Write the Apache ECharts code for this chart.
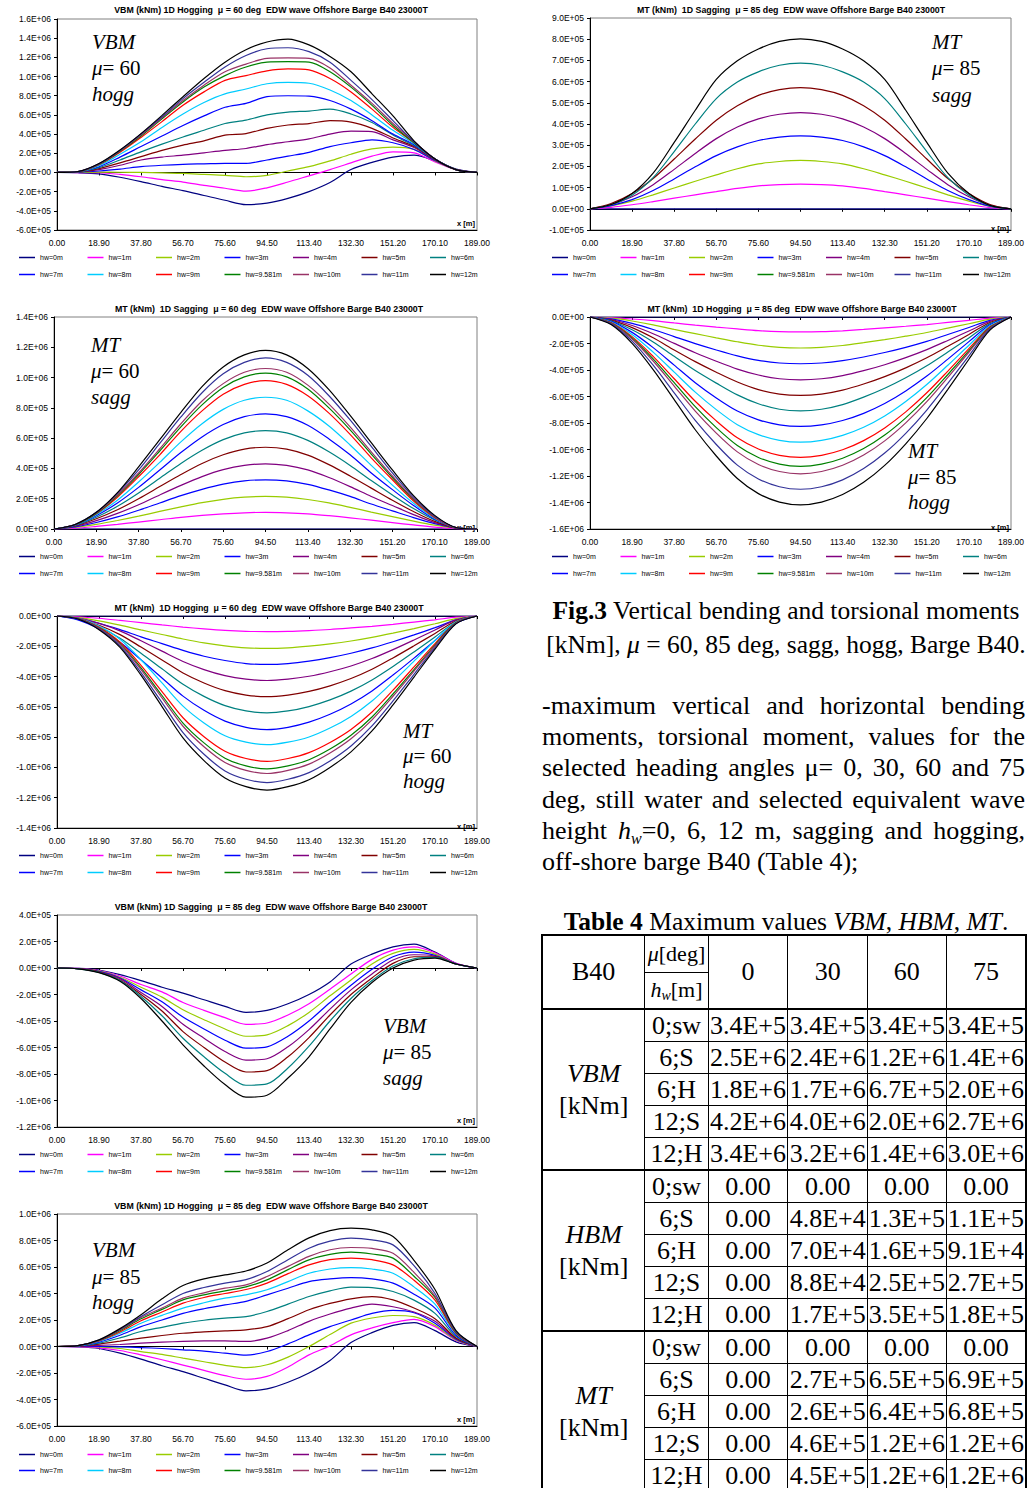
<!DOCTYPE html>
<html><head><meta charset="utf-8">
<script src="https://cdn.jsdelivr.net/npm/echarts@6/dist/echarts.min.js"></script>
<style>
html,body{margin:0;padding:0;width:1027px;height:1488px;overflow:hidden;background:#fff;}
#chart{position:absolute;left:0;top:0;width:1027px;height:1488px;}
.txt{position:absolute;font-family:"Liberation Serif","Times New Roman",serif;color:#000;font-size:25.5px;white-space:nowrap;}
.pl{position:absolute;left:542px;width:483px;height:31.2px;line-height:31.2px;font-family:"Liberation Serif","Times New Roman",serif;font-size:26px;color:#000;text-align:justify;text-align-last:justify;white-space:nowrap;}
.pl.last{text-align:left;text-align-last:left;}
.sb{font-size:16px;vertical-align:-5px;line-height:0;font-style:italic;}
#tbl{position:absolute;left:541px;top:934px;border-collapse:collapse;table-layout:fixed;font-family:"Liberation Serif","Times New Roman",serif;font-size:26px;color:#000;border:2px solid #000;}
#tbl td{border:1px solid #000;padding:0;text-align:center;vertical-align:middle;white-space:nowrap;overflow:hidden;height:31px;line-height:30px;}
#tbl td.hd{height:35.5px;font-size:22px;line-height:30px;}
#tbl tr.grp td{border-top:2px solid #000;}
#tbl td.big{font-size:26px;}
</style></head><body>
<div id="chart"></div>
<div class="txt" style="left:530px;top:594px;width:512px;text-align:center;line-height:34px;"><b>Fig.3</b> Vertical bending and torsional moments<br>[kNm], <i>μ</i> = 60, 85 deg, sagg, hogg, Barge B40.</div>
<div class="pl" style="top:690px;">-maximum vertical and horizontal bending</div>
<div class="pl" style="top:721.2px;">moments, torsional moment, values for the</div>
<div class="pl" style="top:752.4px;">selected heading angles μ= 0, 30, 60 and 75</div>
<div class="pl" style="top:783.6px;">deg, still water and selected equivalent wave</div>
<div class="pl" style="top:814.8px;">height <i>h</i><span class="sb">w</span>=0, 6, 12 m, sagging and hogging,</div>
<div class="pl last" style="top:846px;">off-shore barge B40 (Table 4);</div>
<div class="txt" style="left:530px;top:905px;width:512px;text-align:center;line-height:34px;"><b>Table 4</b> Maximum values <i>VBM</i>, <i>HBM</i>, <i>MT</i>.</div>
<table id="tbl"></table>
<script>
// ---------- DATA ----------
const X = [0, 9.45, 18.9, 28.35, 37.8, 47.25, 56.7, 66.15, 75.6, 85.05, 94.5, 103.95, 113.4, 122.85, 132.3, 141.75, 151.2, 160.65, 170.1, 179.55, 189];
const hwNames = ['hw=0m','hw=1m','hw=2m','hw=3m','hw=4m','hw=5m','hw=6m','hw=7m','hw=8m','hw=9m','hw=9.581m','hw=10m','hw=11m','hw=12m'];
const hwColors = ['#000080','#FF00FF','#99CC00','#0000FF','#800080','#800000','#008080','#0000FF','#00CCFF','#FF0000','#008000','#993366','#333399','#000000'];
const UNIT = 1e5; // values below are in 1E+05 kNm

const vbm60Hogg = [
 [0,-0.03,-0.15,-0.5,-0.95,-1.45,-1.9,-2.4,-2.9,-3.35,-3.2,-2.7,-2.0,-1.05,0.3,1.05,1.6,1.8,1.2,0.35,0],
 [0,-0.01,-0.03,-0.2,-0.45,-0.75,-1.0,-1.35,-1.65,-1.95,-1.6,-1.0,-0.35,0.3,1.0,1.7,2.15,2.05,1.1,0.3,0],
 [0,0,0.03,0.02,0,-0.05,-0.1,-0.2,-0.3,-0.45,-0.3,0.15,0.6,1.2,1.9,2.45,2.65,2.4,1.2,0.3,0],
 [0,0.02,0.15,0.35,0.6,0.75,0.85,0.9,0.95,0.95,1.3,1.7,2.1,2.7,3.1,3.4,3.1,2.4,1.25,0.3,0],
 [0,0.05,0.3,0.75,1.3,1.6,1.8,2.05,2.3,2.5,2.9,3.2,3.5,4.0,4.3,4.25,3.4,2.6,1.3,0.3,0],
 [0,0.05,0.4,1.0,1.65,2.3,2.85,3.3,3.9,4.05,4.6,4.95,5.1,5.4,5.25,4.6,3.6,2.7,1.35,0.3,0],
 [0,0.06,0.5,1.3,2.15,2.95,3.7,4.4,5.1,5.45,6.0,6.3,6.4,6.6,6.1,5.2,3.9,2.8,1.4,0.3,0],
 [0,0.07,0.6,1.6,2.7,3.8,4.9,5.9,6.8,7.2,7.9,8.0,7.95,7.5,6.6,5.4,4.0,2.9,1.4,0.3,0],
 [0,0.08,0.7,1.9,3.2,4.7,6.1,7.3,8.2,8.7,9.25,9.4,9.3,8.6,7.5,6.0,4.4,3.0,1.4,0.3,0],
 [0,0.08,0.8,2.1,3.65,5.3,7.0,8.4,9.6,10.1,10.6,10.8,10.7,9.8,8.4,6.6,4.7,3.1,1.4,0.3,0],
 [0,0.08,0.83,2.2,3.8,5.6,7.35,8.9,10.1,11.0,11.5,11.55,11.5,10.5,8.9,7.0,4.9,3.1,1.4,0.3,0],
 [0,0.09,0.87,2.25,3.9,5.7,7.5,9.1,10.5,11.3,11.9,11.95,11.9,10.9,9.1,7.2,5.1,3.2,1.4,0.3,0],
 [0,0.09,0.9,2.3,4.0,5.8,7.7,9.4,11.0,12.2,12.9,13.0,12.6,11.5,9.6,7.6,5.4,3.2,1.4,0.3,0],
 [0,0.1,0.94,2.35,4.05,5.95,7.9,9.8,11.5,12.8,13.6,13.9,13.3,12.1,10.5,8.2,5.9,3.3,1.4,0.3,0]
];
const mt60Sagg = [
 [0,0,0,0,0,0,0,0,0,0,0,0,0,0,0,0,0,0,0,0,0],
 [0,0.05,0.17,0.31,0.46,0.61,0.77,0.9,1.0,1.07,1.1,1.07,1.0,0.88,0.74,0.58,0.42,0.27,0.13,0.03,0],
 [0,0.1,0.3,0.56,0.85,1.16,1.46,1.74,1.96,2.1,2.15,2.1,1.95,1.72,1.43,1.12,0.82,0.52,0.25,0.05,0],
 [0,0.14,0.43,0.8,1.24,1.72,2.2,2.62,2.96,3.18,3.25,3.18,2.95,2.58,2.15,1.65,1.2,0.75,0.35,0.06,0],
 [0,0.18,0.55,1.03,1.6,2.25,2.88,3.46,3.92,4.2,4.3,4.2,3.9,3.4,2.8,2.15,1.55,0.95,0.42,0.07,0],
 [0,0.21,0.68,1.27,2.0,2.8,3.6,4.33,4.9,5.28,5.4,5.28,4.88,4.25,3.5,2.7,1.9,1.15,0.5,0.08,0],
 [0,0.24,0.78,1.5,2.38,3.35,4.33,5.2,5.9,6.35,6.5,6.35,5.85,5.1,4.2,3.2,2.25,1.35,0.6,0.1,0],
 [0,0.26,0.88,1.72,2.75,3.9,5.05,6.08,6.9,7.42,7.6,7.42,6.85,5.95,4.9,3.7,2.6,1.55,0.65,0.1,0],
 [0,0.27,0.95,1.9,3.1,4.4,5.75,6.95,7.9,8.5,8.7,8.5,7.8,6.8,5.55,4.2,2.9,1.7,0.7,0.1,0],
 [0,0.28,1.0,2.1,3.45,4.9,6.45,7.8,8.9,9.55,9.8,9.55,8.8,7.65,6.25,4.7,3.25,1.85,0.75,0.1,0],
 [0,0.28,1.02,2.2,3.6,5.15,6.75,8.2,9.35,10.05,10.3,10.05,9.25,8.0,6.55,4.95,3.4,1.95,0.8,0.1,0],
 [0,0.3,1.05,2.25,3.7,5.3,6.95,8.45,9.6,10.35,10.6,10.35,9.5,8.25,6.75,5.1,3.5,2.0,0.8,0.1,0],
 [0,0.3,1.1,2.35,3.9,5.65,7.4,9.0,10.25,11.0,11.3,11.0,10.15,8.8,7.2,5.45,3.7,2.1,0.85,0.1,0],
 [0,0.3,1.1,2.4,4.1,5.9,7.7,9.4,10.7,11.5,11.8,11.5,10.6,9.2,7.5,5.7,3.9,2.2,0.9,0.1,0]
];
const mt60Hogg = [
 [0,0,0,0,0,0,0,0,0,0,0,0,0,0,0,0,0,0,0,0,0],
 [0,-0.05,-0.15,-0.29,-0.44,-0.59,-0.73,-0.85,-0.95,-1.01,-1.03,-1.01,-0.96,-0.89,-0.79,-0.68,-0.55,-0.4,-0.25,-0.08,0],
 [0,-0.11,-0.32,-0.6,-0.92,-1.22,-1.52,-1.78,-1.97,-2.1,-2.14,-2.1,-1.99,-1.84,-1.65,-1.41,-1.13,-0.83,-0.51,-0.17,0],
 [0,-0.16,-0.48,-0.9,-1.38,-1.82,-2.27,-2.66,-2.94,-3.14,-3.2,-3.14,-2.98,-2.75,-2.46,-2.11,-1.7,-1.25,-0.77,-0.26,0],
 [0,-0.14,-0.49,-0.98,-1.64,-2.32,-3.0,-3.54,-3.94,-4.17,-4.26,-4.17,-3.98,-3.68,-3.3,-2.81,-2.22,-1.58,-0.92,-0.26,0],
 [0,-0.18,-0.61,-1.23,-2.05,-2.9,-3.76,-4.42,-4.93,-5.22,-5.33,-5.22,-4.98,-4.61,-4.13,-3.52,-2.77,-1.97,-1.15,-0.33,0],
 [0,-0.22,-0.73,-1.47,-2.46,-3.49,-4.51,-5.31,-5.92,-6.27,-6.4,-6.27,-5.98,-5.54,-4.96,-4.22,-3.33,-2.37,-1.38,-0.4,0],
 [0,-0.26,-0.86,-1.73,-2.89,-4.09,-5.29,-6.23,-6.94,-7.35,-7.5,-7.35,-7.01,-6.49,-5.81,-4.95,-3.9,-2.78,-1.61,-0.47,0],
 [0,-0.14,-0.66,-1.53,-2.89,-4.42,-5.95,-7.06,-7.91,-8.33,-8.5,-8.33,-7.99,-7.4,-6.63,-5.61,-4.34,-2.98,-1.62,-0.38,0],
 [0,-0.16,-0.75,-1.73,-3.26,-4.99,-6.72,-7.97,-8.93,-9.41,-9.6,-9.41,-9.02,-8.35,-7.49,-6.34,-4.9,-3.36,-1.82,-0.43,0],
 [0,-0.17,-0.79,-1.82,-3.43,-5.25,-7.07,-8.38,-9.39,-9.9,-10.1,-9.9,-9.49,-8.79,-7.88,-6.67,-5.15,-3.54,-1.92,-0.45,0],
 [0,-0.18,-0.81,-1.87,-3.54,-5.41,-7.28,-8.63,-9.67,-10.19,-10.4,-10.19,-9.78,-9.05,-8.11,-6.86,-5.3,-3.64,-1.98,-0.47,0],
 [0,-0.19,-0.86,-1.98,-3.74,-5.72,-7.7,-9.13,-10.23,-10.78,-11.0,-10.78,-10.34,-9.57,-8.58,-7.26,-5.61,-3.85,-2.09,-0.5,0],
 [0,-0.2,-0.9,-2.07,-3.91,-5.98,-8.05,-9.55,-10.7,-11.27,-11.5,-11.27,-10.81,-10.0,-8.97,-7.59,-5.87,-4.03,-2.19,-0.52,0]
];
const vbm85Sagg = [
 [0,-0.03,-0.15,-0.5,-0.95,-1.45,-1.9,-2.4,-2.9,-3.35,-3.2,-2.7,-2.0,-1.05,0.3,1.05,1.6,1.8,1.2,0.35,0],
 [0,-0.03,-0.2,-0.6,-1.25,-1.8,-2.6,-3.2,-3.75,-4.25,-4.15,-3.55,-2.7,-1.6,-0.45,0.65,1.35,1.6,1.15,0.35,0],
 [0,-0.04,-0.22,-0.7,-1.45,-2.2,-3.15,-3.9,-4.6,-5.15,-5.05,-4.35,-3.35,-2.1,-0.9,0.3,1.1,1.4,1.05,0.3,0],
 [0,-0.04,-0.25,-0.75,-1.65,-2.55,-3.7,-4.6,-5.45,-6.05,-5.95,-5.15,-4.0,-2.6,-1.3,-0.1,0.85,1.2,0.95,0.3,0],
 [0,-0.05,-0.28,-0.8,-1.85,-2.9,-4.25,-5.3,-6.3,-6.95,-6.85,-5.95,-4.65,-3.1,-1.65,-0.45,0.6,1.0,0.9,0.3,0],
 [0,-0.05,-0.3,-0.9,-2.0,-3.25,-4.8,-6.0,-7.1,-7.85,-7.75,-6.7,-5.25,-3.55,-2.0,-0.75,0.35,0.85,0.85,0.3,0],
 [0,-0.06,-0.33,-0.95,-2.15,-3.6,-5.3,-6.7,-7.95,-8.85,-8.75,-7.55,-5.9,-4.0,-2.3,-0.95,0.15,0.7,0.8,0.3,0],
 [], [], [], [], [], [],
 [0,-0.06,-0.35,-1.0,-2.3,-4.0,-5.8,-7.4,-8.8,-9.75,-9.6,-8.3,-6.7,-4.6,-2.6,-1.1,0.0,0.6,0.75,0.3,0]
];
const vbm85Hogg = [
 [0,-0.03,-0.15,-0.5,-0.95,-1.45,-1.9,-2.4,-2.9,-3.35,-3.2,-2.7,-2.0,-1.05,0.3,1.05,1.6,1.8,1.2,0.35,0],
 [0,-0.02,-0.1,-0.3,-0.63,-1.0,-1.4,-1.8,-2.2,-2.47,-2.26,-1.55,-0.63,0.05,0.88,1.4,1.8,2.05,1.5,0.45,0],
 [0,0,-0.03,-0.15,-0.38,-0.6,-0.88,-1.15,-1.42,-1.6,-1.38,-0.8,0,0.9,1.76,2.15,2.34,2.25,1.6,0.5,0],
 [0,0,0,-0.03,-0.08,-0.15,-0.25,-0.35,-0.5,-0.65,-0.38,0.2,0.88,1.5,2.0,2.5,2.72,2.55,1.75,0.55,0],
 [0,0.02,0.08,0.15,0.25,0.33,0.38,0.42,0.43,0.38,0.63,1.2,1.9,2.45,2.9,3.2,3.0,2.6,1.9,0.6,0],
 [0,0.03,0.18,0.4,0.63,0.83,1.0,1.1,1.18,1.26,1.5,2.1,2.77,3.25,3.6,3.77,3.52,2.9,2.1,0.65,0],
 [0,0.04,0.25,0.65,1.13,1.45,1.76,1.98,2.14,2.26,2.64,3.2,3.77,4.2,4.48,4.45,4.15,3.5,2.5,0.75,0],
 [0,0.05,0.33,0.85,1.5,2.0,2.5,2.85,3.14,3.4,3.9,4.4,4.9,5.1,5.2,5.1,4.78,3.95,2.9,0.85,0],
 [0,0.05,0.38,1.0,1.76,2.35,2.9,3.3,3.65,3.9,4.28,4.9,5.53,5.85,5.96,5.85,5.53,4.5,3.2,0.95,0],
 [0,0.06,0.42,1.1,1.94,2.6,3.27,3.7,4.0,4.3,4.78,5.5,6.16,6.55,6.67,6.55,6.16,5.0,3.5,1.0,0],
 [0,0.06,0.45,1.2,2.09,2.8,3.52,3.9,4.2,4.5,5.03,5.8,6.54,6.95,7.12,6.98,6.67,5.3,3.7,1.05,0],
 [0,0.06,0.45,1.25,2.19,2.9,3.65,4.05,4.4,4.65,5.28,6.05,6.8,7.3,7.47,7.4,7.04,5.6,3.8,1.1,0],
 [0,0.07,0.48,1.3,2.26,3.15,4.0,4.45,4.78,5.05,5.66,6.55,7.42,7.95,8.18,8.05,7.67,6.1,4.0,1.15,0],
 [0,0.07,0.5,1.35,2.4,3.6,4.6,5.1,5.4,5.7,6.3,7.3,8.2,8.75,8.93,8.8,8.3,6.5,4.3,1.2,0]
];
const mt85Sagg = [
 [0,0,0,0,0,0,0,0,0,0,0,0,0,0,0,0,0,0,0,0,0],
 [0,0.07,0.19,0.34,0.5,0.66,0.81,0.96,1.08,1.14,1.16,1.14,1.08,0.96,0.81,0.66,0.5,0.34,0.19,0.06,0],
 [0,0.14,0.36,0.66,0.98,1.3,1.6,1.89,2.12,2.23,2.28,2.23,2.12,1.89,1.6,1.3,0.98,0.66,0.36,0.11,0],
 [0,0.15,0.43,0.86,1.41,1.98,2.51,2.92,3.22,3.38,3.44,3.38,3.22,2.92,2.51,1.98,1.41,0.86,0.43,0.12,0],
 [0,0.2,0.57,1.14,1.86,2.61,3.31,3.86,4.24,4.46,4.54,4.46,4.24,3.86,3.31,2.61,1.86,1.14,0.57,0.16,0],
 [0,0.25,0.72,1.43,2.35,3.29,4.18,4.86,5.35,5.62,5.72,5.62,5.35,4.86,4.18,3.29,2.35,1.43,0.72,0.2,0],
 [0,0.19,0.64,1.47,2.7,4.0,5.2,5.98,6.46,6.77,6.87,6.77,6.46,5.98,5.2,4.0,2.7,1.47,0.64,0.15,0],
 [], [], [], [], [], [],
 [0,0.2,0.72,1.68,3.13,4.65,6.1,6.98,7.54,7.9,8.02,7.9,7.54,6.98,6.1,4.65,3.13,1.68,0.72,0.16,0]
];
const mt85Hogg = [
 [0,0,0,0,0,0,0,0,0,0,0,0,0,0,0,0,0,0,0,0,0],
 [0,-0.05,-0.15,-0.28,-0.45,-0.61,-0.76,-0.9,-1.03,-1.11,-1.13,-1.11,-1.04,-0.94,-0.82,-0.7,-0.57,-0.41,-0.25,-0.08,0],
 [0,-0.09,-0.3,-0.59,-0.94,-1.26,-1.57,-1.87,-2.13,-2.29,-2.34,-2.29,-2.15,-1.94,-1.71,-1.45,-1.17,-0.84,-0.51,-0.16,0],
 [0,-0.14,-0.48,-0.94,-1.48,-2.01,-2.49,-2.93,-3.27,-3.47,-3.53,-3.47,-3.29,-3.02,-2.68,-2.29,-1.84,-1.32,-0.79,-0.25,0],
 [0,-0.19,-0.64,-1.26,-1.99,-2.7,-3.34,-3.93,-4.38,-4.66,-4.74,-4.66,-4.42,-4.05,-3.6,-3.07,-2.46,-1.77,-1.06,-0.33,0],
 [0,-0.24,-0.8,-1.57,-2.49,-3.37,-4.17,-4.91,-5.48,-5.82,-5.92,-5.82,-5.52,-5.06,-4.5,-3.84,-3.08,-2.21,-1.32,-0.41,0],
 [0,-0.28,-0.96,-1.88,-2.97,-4.04,-4.99,-5.88,-6.55,-6.96,-7.08,-6.96,-6.61,-6.05,-5.38,-4.59,-3.68,-2.64,-1.58,-0.5,0],
 [0,-0.33,-1.16,-2.31,-3.63,-4.96,-6.11,-7.1,-7.76,-8.14,-8.26,-8.14,-7.81,-7.27,-6.53,-5.58,-4.46,-3.18,-1.86,-0.58,0],
 [0,-0.38,-1.32,-2.65,-4.16,-5.67,-6.99,-8.13,-8.88,-9.31,-9.45,-9.31,-8.93,-8.32,-7.47,-6.38,-5.1,-3.64,-2.13,-0.66,0],
 [0,-0.42,-1.48,-2.97,-4.66,-6.36,-7.84,-9.12,-9.96,-10.44,-10.6,-10.44,-10.02,-9.33,-8.37,-7.16,-5.72,-4.08,-2.39,-0.74,0],
 [0,-0.45,-1.58,-3.16,-4.96,-6.77,-8.35,-9.7,-10.6,-11.11,-11.28,-11.11,-10.66,-9.93,-8.91,-7.61,-6.09,-4.34,-2.54,-0.79,0],
 [0,-0.47,-1.66,-3.32,-5.21,-7.1,-8.76,-10.18,-11.13,-11.66,-11.84,-11.66,-11.19,-10.42,-9.35,-7.99,-6.39,-4.56,-2.66,-0.83,0],
 [0,-0.52,-1.82,-3.64,-5.72,-7.8,-9.62,-11.18,-12.22,-12.81,-13.0,-12.81,-12.29,-11.44,-10.27,-8.78,-7.02,-5.01,-2.93,-0.91,0],
 [0,-0.57,-1.99,-3.97,-6.24,-8.51,-10.49,-12.19,-13.33,-13.97,-14.18,-13.97,-13.4,-12.48,-11.2,-9.57,-7.66,-5.46,-3.19,-0.99,0]
];

// Table 4 values
const tblMu = ['0','30','60','75'];
const tblHw = ['0;sw','6;S','6;H','12;S','12;H'];
const tblVBM = [['3.4E+5','3.4E+5','3.4E+5','3.4E+5'],['2.5E+6','2.4E+6','1.2E+6','1.4E+6'],['1.8E+6','1.7E+6','6.7E+5','2.0E+6'],['4.2E+6','4.0E+6','2.0E+6','2.7E+6'],['3.4E+6','3.2E+6','1.4E+6','3.0E+6']];
const tblHBM = [['0.00','0.00','0.00','0.00'],['0.00','4.8E+4','1.3E+5','1.1E+5'],['0.00','7.0E+4','1.6E+5','9.1E+4'],['0.00','8.8E+4','2.5E+5','2.7E+5'],['0.00','1.7E+5','3.5E+5','1.8E+5']];
const tblMT = [['0.00','0.00','0.00','0.00'],['0.00','2.7E+5','6.5E+5','6.9E+5'],['0.00','2.6E+5','6.4E+5','6.8E+5'],['0.00','4.6E+5','1.2E+6','1.2E+6'],['0.00','4.5E+5','1.2E+6','1.2E+6']];

// ---------- LAYOUT ----------
const SANS = '"Liberation Sans", Arial, sans-serif';
const SERIF = '"Liberation Serif", "Times New Roman", serif';
const LEG_STEP = 68.5;
const panels = [
 {title:'VBM (kNm) 1D Hogging  μ = 60 deg  EDW wave Offshore Barge B40 23000T', data:vbm60Hogg,
  grid:[57,19,420,211], y:[-6e5,1.6e6,2e5], tc:[271,10], lx:19, ly:[259,276], ax:92, ay:[42,68,94], at:['VBM','= 60','hogg'], xm:[475,227]},
 {title:'MT (kNm)  1D Sagging  μ = 60 deg  EDW wave Offshore Barge B40 23000T', data:mt60Sagg,
  grid:[54,317,423,212], y:[0,1.4e6,2e5], tc:[269,309], lx:19, ly:[558,575], ax:91, ay:[345,371,397], at:['MT','= 60','sagg'], xm:[475,531]},
 {title:'MT (kNm)  1D Hogging  μ = 60 deg  EDW wave Offshore Barge B40 23000T', data:mt60Hogg,
  grid:[57,616,420,212], y:[-1.4e6,0,2e5], tc:[269,608], lx:19, ly:[857,874], ax:403, ay:[731,756,781], at:['MT','= 60','hogg'], xm:[475,830]},
 {title:'VBM (kNm) 1D Sagging  μ = 85 deg  EDW wave Offshore Barge B40 23000T', data:vbm85Sagg,
  grid:[57,915,420,212], y:[-1.2e6,4e5,2e5], tc:[271,907], lx:19, ly:[1156,1173], ax:383, ay:[1026,1052,1078], at:['VBM','= 85','sagg'], xm:[475,1124]},
 {title:'VBM (kNm) 1D Hogging  μ = 85 deg  EDW wave Offshore Barge B40 23000T', data:vbm85Hogg,
  grid:[57,1214,420,212], y:[-6e5,1e6,2e5], tc:[271,1206], lx:19, ly:[1456,1472], ax:92, ay:[1250,1277,1302], at:['VBM','= 85','hogg'], xm:[475,1423]},
 {title:'MT (kNm)  1D Sagging  μ = 85 deg  EDW wave Offshore Barge B40 23000T', data:mt85Sagg,
  grid:[590,18,421,212], y:[-1e5,9e5,1e5], tc:[791,10], lx:552, ly:[259,276], ax:932, ay:[42,68,95], at:['MT','= 85','sagg'], xm:[1009,232]},
 {title:'MT (kNm)  1D Hogging  μ = 85 deg  EDW wave Offshore Barge B40 23000T', data:mt85Hogg,
  grid:[590,317,421,212], y:[-1.6e6,0,2e5], tc:[802,309], lx:552, ly:[558,575], ax:908, ay:[451,477,502], at:['MT','= 85','hogg'], xm:[1009,531]}
];

function sci(v){
  if (Math.abs(v) < 1e-6) return '0.0E+00';
  const s = v < 0 ? '-' : '';
  const a = Math.abs(v);
  let e = Math.floor(Math.log10(a) + 1e-9);
  let m = a / Math.pow(10, e);
  if (m >= 9.95) { m /= 10; e++; }
  return s + m.toFixed(1) + 'E' + (e < 0 ? '-' : '+') + String(Math.abs(e)).padStart(2, '0');
}

const option = {animation:false, grid:[], xAxis:[], yAxis:[], series:[], legend:[], graphic:[]};
panels.forEach((p, k) => {
  option.grid.push({left:p.grid[0], top:p.grid[1], width:p.grid[2], height:p.grid[3], show:true, borderColor:'#808080', borderWidth:1, backgroundColor:'#fff'});
  option.xAxis.push({gridIndex:k, type:'value', min:0, max:189, interval:18.9, position:'bottom',
    axisLine:{show:true, onZero:false, lineStyle:{color:'#000', width:1}}, axisTick:{show:false},
    axisLabel:{formatter:v => v.toFixed(2), fontSize:8.5, fontFamily:SANS, color:'#000', margin:8, showMinLabel:true, showMaxLabel:true},
    splitLine:{show:false}});
  option.xAxis.push({gridIndex:k, type:'value', min:0, max:189, interval:18.9, position:'bottom',
    axisLine:{show:true, onZero:true, lineStyle:{color:'#000', width:1}}, axisTick:{show:true, length:3, lineStyle:{color:'#000'}},
    axisLabel:{show:false}, splitLine:{show:false}});
  option.yAxis.push({gridIndex:k, type:'value', min:p.y[0], max:p.y[1], interval:p.y[2],
    axisLine:{show:true, onZero:false, lineStyle:{color:'#000', width:1}}, axisTick:{show:true, length:3, lineStyle:{color:'#000'}},
    axisLabel:{formatter:sci, fontSize:8.5, fontFamily:SANS, color:'#000', margin:6}, splitLine:{show:false}});
  p.data.forEach((row, j) => {
    option.series.push({type:'line', name:hwNames[j], xAxisIndex:2*k, yAxisIndex:k,
      data:row.map((v, i) => [X[i], v * UNIT]), symbol:'none', showSymbol:false, smooth:0.3,
      color:hwColors[j], lineStyle:{width:1.2, color:hwColors[j]}, silent:true, z:2});
  });
  // one legend per entry, laid out on the 7 x 2 grid of the original
  hwNames.forEach((nm, j) => {
    const r = Math.floor(j / 7), c = j % 7;
    option.legend.push({left:p.lx + c * LEG_STEP, top:p.ly[r] - 5, orient:'horizontal',
      data:[nm], icon:'rect', itemWidth:16, itemHeight:1.5, itemGap:0, padding:0, selectedMode:false,
      textStyle:{fontSize:7, fontFamily:SANS, color:'#000'}});
  });
  option.graphic.push({type:'text', x:p.tc[0], y:p.tc[1], silent:true,
    style:{text:p.title, fontSize:8.8, fontWeight:'bold', fontFamily:SANS, fill:'#000', align:'center', verticalAlign:'middle'}});
  option.graphic.push({type:'text', x:p.ax, y:p.ay[0], silent:true,
    style:{text:p.at[0], fontSize:21, fontStyle:'italic', fontFamily:SERIF, fill:'#000', align:'left', verticalAlign:'middle'}});
  option.graphic.push({type:'text', x:p.ax, y:p.ay[1], silent:true,
    style:{text:'{i|μ}{n|' + p.at[1] + '}', fill:'#000', align:'left', verticalAlign:'middle',
      rich:{i:{fontSize:21, fontStyle:'italic', fontFamily:SERIF, fill:'#000'}, n:{fontSize:21, fontFamily:SERIF, fill:'#000'}}}});
  option.graphic.push({type:'text', x:p.ax, y:p.ay[2], silent:true,
    style:{text:p.at[2], fontSize:21, fontStyle:'italic', fontFamily:SERIF, fill:'#000', align:'left', verticalAlign:'middle'}});
  option.graphic.push({type:'text', x:p.xm[0], y:p.xm[1], silent:true,
    style:{text:'x [m]', fontSize:7.5, fontWeight:'bold', fontFamily:SANS, fill:'#000', align:'right', verticalAlign:'bottom'}});
});

const chart = echarts.init(document.getElementById('chart'), null, {renderer:'svg', width:1027, height:1488});
chart.setOption(option);

// ---------- TABLE ----------
(function(){
  let h = '<colgroup><col style="width:107px"><col style="width:64px"><col style="width:80px"><col style="width:80px"><col style="width:79px"><col style="width:80px"></colgroup>';
  h += '<tr><td rowspan="2" class="big" style="height:71px">B40</td><td class="hd"><i>μ</i>[deg]</td>';
  tblMu.forEach(m => { h += '<td rowspan="2" class="big">' + m + '</td>'; });
  h += '</tr><tr><td class="hd"><i>h</i><span style="font-size:14px;font-style:italic;vertical-align:-3px;line-height:0">w</span>[m]</td></tr>';
  const groups = [['VBM', tblVBM], ['HBM', tblHBM], ['MT', tblMT]];
  groups.forEach(g => {
    g[1].forEach((row, i) => {
      h += '<tr class="' + (i === 0 ? 'grp' : '') + '">';
      if (i === 0) h += '<td rowspan="5" style="line-height:32px"><i>' + g[0] + '</i><br>[kNm]</td>';
      h += '<td>' + tblHw[i] + '</td>';
      row.forEach(v => { h += '<td>' + v + '</td>'; });
      h += '</tr>';
    });
  });
  document.getElementById('tbl').innerHTML = h;
})();
</script>
</body></html>
